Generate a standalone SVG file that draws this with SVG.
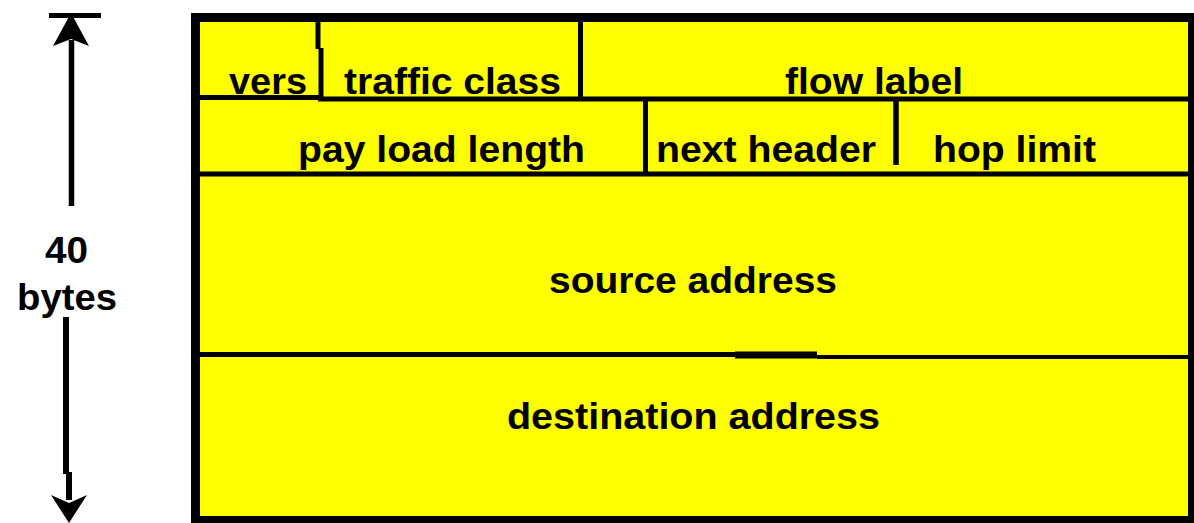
<svg xmlns="http://www.w3.org/2000/svg" width="1194" height="523" viewBox="0 0 1194 523">
<style>
.lbl{font-family:"Liberation Sans",Arial,sans-serif;font-weight:bold;font-size:37px;fill:#000}
.ln{stroke:#000;fill:none}
</style>
<rect width="1194" height="523" fill="#fff"/>
<g id="header">
<rect x="195.5" y="17.5" width="997" height="503" fill="#ffff00" stroke="#000" stroke-width="9"/>
</g>
<g id="dividers" class="ln">
<line x1="200" y1="97.5" x2="320" y2="97.5" stroke-width="5"/>
<line x1="318" y1="99" x2="1188" y2="99" stroke-width="5"/>
<line x1="200" y1="174" x2="1188" y2="174" stroke-width="5"/>
<line x1="200" y1="354.5" x2="735" y2="354.5" stroke-width="5"/>
<line x1="735" y1="355" x2="817" y2="355" stroke-width="7"/>
<line x1="817" y1="357" x2="1188" y2="357" stroke-width="4"/>
<line x1="318" y1="22" x2="318" y2="49" stroke-width="5"/>
<line x1="321" y1="48" x2="321" y2="100" stroke-width="5"/>
<line x1="580.5" y1="22" x2="580.5" y2="98" stroke-width="5"/>
<line x1="645.5" y1="100" x2="645.5" y2="172" stroke-width="5"/>
<line x1="896" y1="100" x2="896" y2="165" stroke-width="5.5"/>
</g>
<g id="vers"><text class="lbl" x="229" y="94" textLength="78" lengthAdjust="spacingAndGlyphs">vers</text></g>
<g id="traffic-class"><text class="lbl" x="344" y="94" textLength="217" lengthAdjust="spacingAndGlyphs">traffic class</text></g>
<g id="flow-label"><text class="lbl" x="785" y="94" textLength="178" lengthAdjust="spacingAndGlyphs">flow label</text></g>
<g id="payload-length"><text class="lbl" x="298" y="162" textLength="287" lengthAdjust="spacingAndGlyphs">pay load length</text></g>
<g id="next-header"><text class="lbl" x="656" y="162" textLength="220" lengthAdjust="spacingAndGlyphs">next header</text></g>
<g id="hop-limit"><text class="lbl" x="933" y="162" textLength="163" lengthAdjust="spacingAndGlyphs">hop limit</text></g>
<g id="source-address"><text class="lbl" x="549" y="293" textLength="288" lengthAdjust="spacingAndGlyphs">source address</text></g>
<g id="destination-address"><text class="lbl" x="507" y="429" textLength="373" lengthAdjust="spacingAndGlyphs">destination address</text></g>
<g id="size-arrow">
<rect x="49" y="13" width="52" height="5" fill="#000"/>
<polygon points="71,13 89,46 71,39 53,46" fill="#000"/>
<line class="ln" x1="71.5" y1="40" x2="71.5" y2="206" stroke-width="5.5"/>
<line class="ln" x1="66" y1="317" x2="66" y2="474" stroke-width="6"/>
<line class="ln" x1="69" y1="472" x2="69" y2="500" stroke-width="6"/>
<polygon points="51,495 69,503 87,495 69,523" fill="#000"/>
<text class="lbl" x="45" y="263" textLength="43" lengthAdjust="spacingAndGlyphs">40</text>
<text class="lbl" x="17" y="310" textLength="100" lengthAdjust="spacingAndGlyphs">bytes</text>
</g>
</svg>
